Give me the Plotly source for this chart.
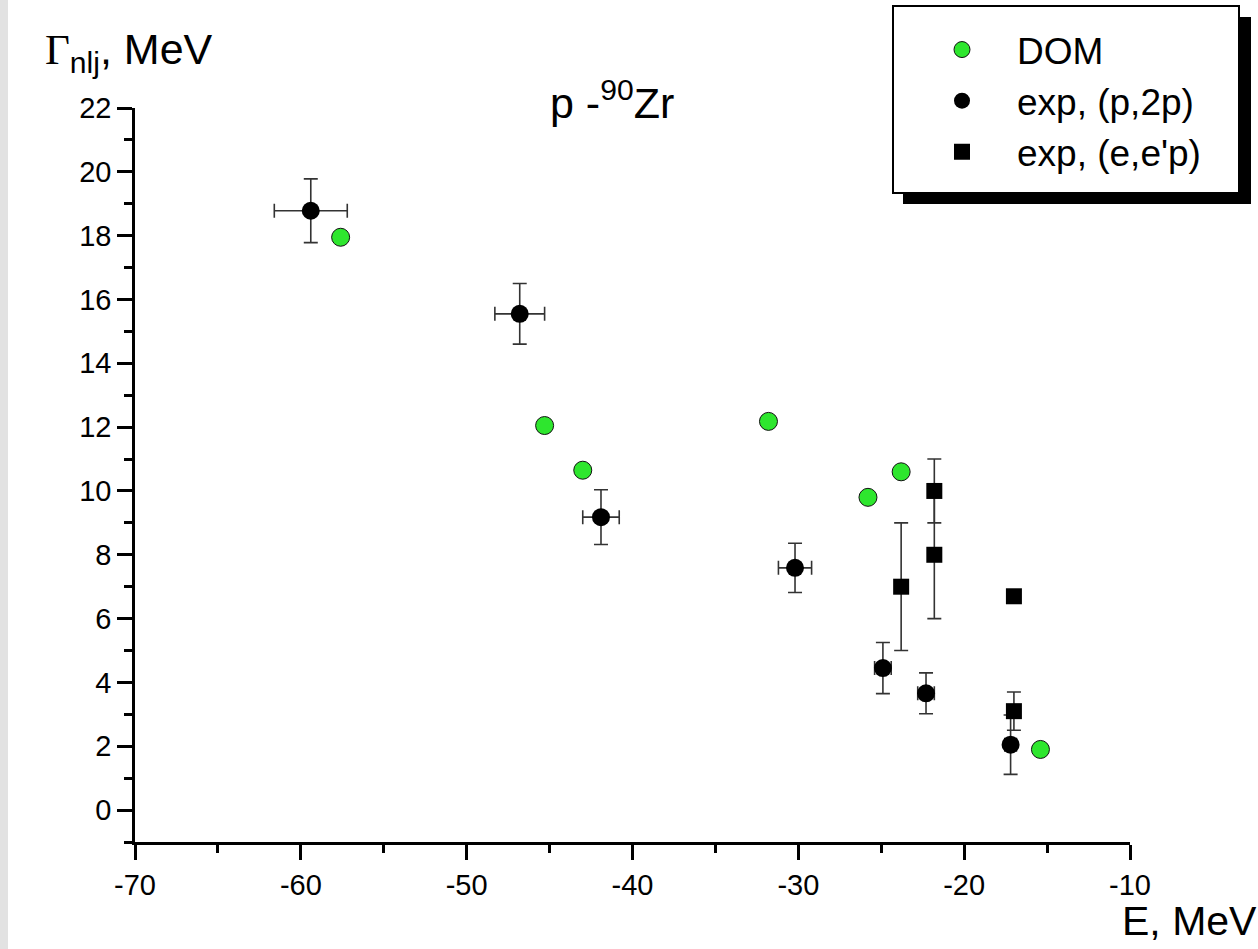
import plotly.graph_objects as go

# ---------------- data ----------------
dom_E = [-57.6, -45.3, -43.0, -31.8, -25.8, -23.8, -15.4]
dom_G = [17.95, 12.05, 10.65, 12.18, 9.8, 10.6, 1.9]

p2p_E = [-59.4, -46.8, -41.9, -30.2, -24.9, -22.3, -17.2]
p2p_G = [18.78, 15.55, 9.18, 7.59, 4.45, 3.66, 2.05]
p2p_dE = [2.2, 1.5, 1.1, 1.0, 0.5, 0.5, 0.35]
p2p_dG = [1.0, 0.95, 0.86, 0.77, 0.8, 0.64, 0.93]

eep_E = [-23.8, -21.8, -21.8, -17.0, -17.0]
eep_G = [7.0, 8.0, 10.0, 6.7, 3.1]
eep_dG = [2.0, 2.0, 1.0, 0.0, 0.6]

x_ticks = [-70, -60, -50, -40, -30, -20, -10]
y_ticks = [0, 2, 4, 6, 8, 10, 12, 14, 16, 18, 20, 22]

# ---------------- layout helpers (pixel -> paper) ----------------
L, R, T, B = 135, 1130, 108, 842
W, H = R - L, B - T


def px(x):
    return (x - L) / W


def py(y):
    return (B - y) / H


FONT = "Liberation Sans, Arial, sans-serif"
GREEN = "#2ee62e"
ERR = "#333333"

fig = go.Figure()

fig.add_trace(go.Scatter(
    x=dom_E, y=dom_G, mode="markers", name="DOM", legendgroup="g0",
    marker=dict(symbol="circle", size=18, color=GREEN,
                line=dict(color="#111111", width=1)),
))
fig.add_trace(go.Scatter(
    x=p2p_E, y=p2p_G, mode="markers", name="exp, (p,2p)", legendgroup="g1",
    marker=dict(symbol="circle", size=18, color="black",
                line=dict(color="black", width=0)),
    error_y=dict(type="data", array=p2p_dG, color=ERR, thickness=1.6, width=7),
    error_x=dict(type="data", array=p2p_dE, color=ERR, thickness=1.6, width=7),
))
fig.add_trace(go.Scatter(
    x=eep_E, y=eep_G, mode="markers", name="exp, (e,e'p)", legendgroup="g2",
    marker=dict(symbol="square", size=16, color="black",
                line=dict(color="black", width=0)),
    error_y=dict(type="data", array=eep_dG, color=ERR, thickness=1.6, width=7),
))

shapes = [
    # light gray strip at the left page edge
    dict(type="rect", xref="paper", yref="paper",
         x0=px(0), x1=px(8), y0=py(949), y1=py(0),
         fillcolor="#e2e2e2", line=dict(width=0), layer="below"),
    # legend shadow
    dict(type="rect", xref="paper", yref="paper",
         x0=px(903), x1=px(1251), y0=py(204), y1=py(17),
         fillcolor="black", line=dict(width=0), layer="above"),
    # legend box
    dict(type="rect", xref="paper", yref="paper",
         x0=px(893), x1=px(1239), y0=py(193), y1=py(6),
         fillcolor="white", line=dict(color="black", width=2), layer="above"),
]

annotations = [
    dict(text="p -<sup>90</sup>Zr", xref="paper", yref="paper",
         x=px(612), y=py(100), xanchor="center", yanchor="middle",
         showarrow=False, font=dict(family=FONT, size=43, color="black")),
    dict(text="<span style='font-family:Liberation Serif, Times New Roman, serif'>Γ</span>"
              "<sub>nlj</sub>, MeV",
         xref="paper", yref="paper",
         x=px(43), y=py(52), xanchor="left", yanchor="middle",
         showarrow=False, font=dict(family=FONT, size=43, color="black")),
    dict(text="E, MeV", xref="paper", yref="paper",
         x=px(1259), y=py(946), xanchor="right", yanchor="bottom",
         showarrow=False, font=dict(family=FONT, size=41, color="black")),
]

fig.update_layout(
    width=1258, height=949,
    margin=dict(l=L, r=1258 - R, t=T, b=949 - B, autoexpand=False),
    paper_bgcolor="white", plot_bgcolor="white",
    font=dict(family=FONT, color="black"),
    shapes=shapes, annotations=annotations,
    showlegend=True,
    legend=dict(
        x=px(907), y=py(19), xanchor="left", yanchor="top",
        bgcolor="rgba(0,0,0,0)", borderwidth=0,
        font=dict(family=FONT, size=37, color="black"),
        itemsizing="trace", tracegroupgap=0, itemwidth=100,
    ),
    xaxis=dict(
        range=[-70, -10], tickvals=x_ticks, ticktext=[str(v) for v in x_ticks],
        showline=True, linecolor="black", linewidth=2.5,
        ticks="outside", ticklen=15, tickwidth=2.5, tickcolor="black",
        minor=dict(dtick=5, tick0=-70, ticks="outside", ticklen=8,
                   tickwidth=2.5, tickcolor="black", showgrid=False),
        showgrid=False, zeroline=False,
        tickfont=dict(family=FONT, size=29, color="black"),
    ),
    yaxis=dict(
        range=[-1, 22], tickvals=y_ticks, ticktext=[str(v) for v in y_ticks],
        showline=True, linecolor="black", linewidth=2.5,
        ticks="outside", ticklen=15, tickwidth=2.5, tickcolor="black",
        minor=dict(dtick=1, tick0=0, ticks="outside", ticklen=8,
                   tickwidth=2.5, tickcolor="black", showgrid=False),
        showgrid=False, zeroline=False,
        tickfont=dict(family=FONT, size=29, color="black"),
    ),
)

fig.write_html("out.html")
